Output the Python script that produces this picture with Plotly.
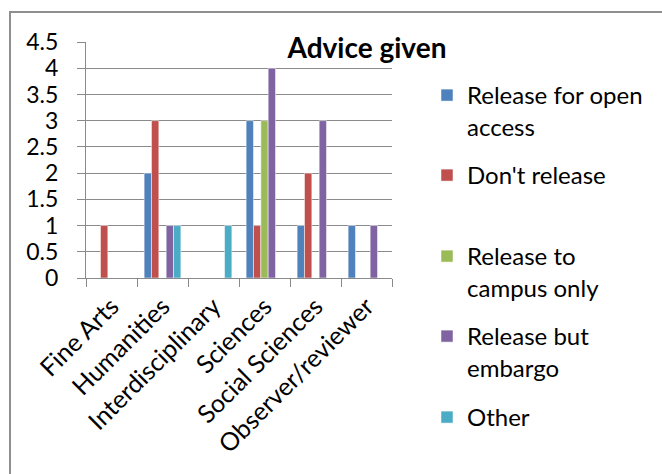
import plotly.graph_objects as go

categories = ["Fine Arts", "Humanities", "Interdisciplinary", "Sciences",
              "Social Sciences", "Observer/reviewer"]

series_names = ["Release for open<br>access", "Don't release",
                "Release to<br>campus only", "Release but<br>embargo", "Other"]

open_access = [0, 2, 0, 3, 1, 1]
dont_release = [1, 3, 0, 1, 2, 0]
campus_only = [0, 0, 0, 3, 0, 0]
embargo = [0, 1, 0, 4, 3, 1]
other = [0, 1, 1, 0, 0, 0]

series_values = [open_access, dont_release, campus_only, embargo, other]
colors = ["#4F81BD", "#C0504D", "#9BBB59", "#8064A2", "#4BACC6"]

y_ticks = [0, 0.5, 1, 1.5, 2, 2.5, 3, 3.5, 4, 4.5]
y_tick_text = ["0", "0.5", "1", "1.5", "2", "2.5", "3", "3.5", "4", "4.5"]

W, H = 662, 474
ML, MR, MT, MB = 86, 270, 42, 196
plot_w = W - ML - MR
plot_h = H - MT - MB


def px_to_paper_x(px):
    return (px - ML) / plot_w


def px_to_paper_y(py):
    return (H - MB - py) / plot_h


FONT = "Lato"
GRID = "#8a8a8a"

fig = go.Figure()

legend_tops = [73, 153, 234, 314, 395]
legend_ids = ["legend", "legend2", "legend3", "legend4", "legend5"]

for name, vals, col, lid in zip(series_names, series_values, colors, legend_ids):
    fig.add_trace(go.Bar(
        x=categories, y=vals, name=name, showlegend=True,
        marker=dict(color=col, line=dict(color="white", width=0.5)),
        legend=lid,
    ))

layout_legends = {}
for lid, top in zip(legend_ids, legend_tops):
    layout_legends[lid] = dict(
        x=px_to_paper_x(427), y=px_to_paper_y(top),
        xanchor="left", yanchor="top",
        bgcolor="rgba(0,0,0,0)", borderwidth=0,
        font=dict(family=FONT, size=24, color="black"),
        valign="top",
    )

fig.update_layout(
    width=W, height=H,
    showlegend=True,
    margin=dict(l=ML, r=MR, t=MT, b=MB, pad=0),
    paper_bgcolor="white", plot_bgcolor="white",
    barmode="group", bargap=0.28, bargroupgap=0,
    font=dict(family=FONT, size=22, color="black"),
    title=dict(
        text="<b>Advice given</b>",
        font=dict(family=FONT, size=28, color="black"),
        x=px_to_paper_x(367), xref="paper", xanchor="center",
        y=1 - 48 / H, yref="container", yanchor="middle",
    ),
    xaxis=dict(
        type="category", showgrid=False,
        showline=True, linecolor=GRID, linewidth=1,
        ticks="outside", tickson="boundaries", ticklen=8,
        tickcolor=GRID, tickwidth=1,
        tickangle=-45, ticklabelstandoff=3,
        tickfont=dict(family=FONT, size=25, color="black"),
    ),
    yaxis=dict(
        range=[0, 4.5], tickvals=y_ticks, ticktext=y_tick_text,
        showgrid=True, gridcolor=GRID, gridwidth=1,
        showline=True, linecolor=GRID, linewidth=1,
        ticks="outside", ticklen=8, tickcolor=GRID, tickwidth=1,
        ticklabelstandoff=14, zeroline=False,
        tickfont=dict(family=FONT, size=23, color="black"),
    ),
    **layout_legends,
)

# outer chart frame
fig.add_shape(
    type="rect", xref="paper", yref="paper", layer="above",
    x0=px_to_paper_x(10), x1=px_to_paper_x(700),
    y0=px_to_paper_y(520), y1=px_to_paper_y(12),
    line=dict(color="#8f8f8f", width=2), fillcolor="rgba(0,0,0,0)",
)

fig.write_html("out.html")
